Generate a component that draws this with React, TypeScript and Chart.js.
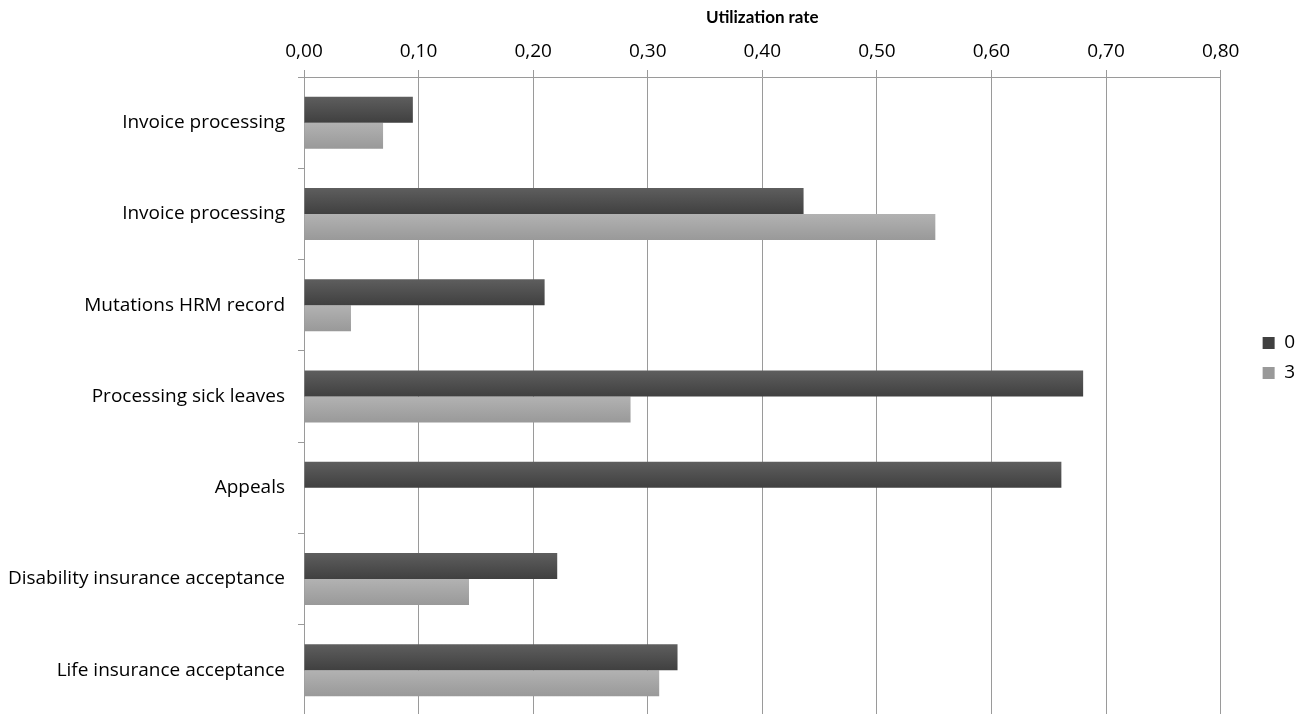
import { useEffect, useRef } from "react";
import { Chart, registerables } from "chart.js";

Chart.register(...registerables);

// Process categories, top to bottom
const categories = [
  "Invoice processing",
  "Invoice processing",
  "Mutations HRM record",
  "Processing sick leaves",
  "Appeals",
  "Disability insurance acceptance",
  "Life insurance acceptance",
];

const seriesNames = ["0", "3"];
const utilization0 = [0.095, 0.436, 0.21, 0.68, 0.661, 0.221, 0.326];
const utilization3 = [0.069, 0.551, 0.041, 0.285, 0, 0.144, 0.31];

const axisTitle = "Utilization rate";
const xMin = 0;
const xMax = 0.8;
const xStep = 0.1;

const FONT = "'Open Sans', Lato, sans-serif";
const TITLE_FONT = "Lato, 'Open Sans', sans-serif";
const GRID = "#9a9a9a";
const CATEGORY_PCT = 0.57;

// Vertical shading for each bar, computed from the category scale so that
// every bar gets its own gradient from top edge to bottom edge.
function shaded(top: string, bottom: string, flat: string, slot: number) {
  return (ctx: any) => {
    const chart = ctx.chart;
    const yScale = chart.scales && chart.scales.y;
    if (!yScale || ctx.dataIndex === undefined || ctx.type !== "data") return flat;
    const center = yScale.getPixelForValue(ctx.dataIndex);
    const cat = (yScale.bottom - yScale.top) / categories.length;
    const thick = (cat * CATEGORY_PCT) / 2;
    const y0 = center - thick + slot * thick;
    if (!Number.isFinite(y0) || !Number.isFinite(thick) || thick <= 0) return flat;
    const g = chart.ctx.createLinearGradient(0, y0, 0, y0 + thick);
    g.addColorStop(0, top);
    g.addColorStop(1, bottom);
    return g;
  };
}

export default function App() {
  const canvasRef = useRef<HTMLCanvasElement | null>(null);

  useEffect(() => {
    document.body.style.margin = "0";
    const canvas = canvasRef.current;
    if (!canvas) return;

    const chart = new Chart(canvas, {
      type: "bar",
      data: {
        labels: categories,
        datasets: [
          {
            label: seriesNames[0],
            data: utilization0,
            backgroundColor: shaded("#5e5e5e", "#404040", "#4d4d4d", 0),
            borderWidth: 0,
            categoryPercentage: CATEGORY_PCT,
            barPercentage: 1,
          },
          {
            label: seriesNames[1],
            data: utilization3,
            backgroundColor: shaded("#b2b2b2", "#999999", "#a6a6a6", 1),
            borderWidth: 0,
            categoryPercentage: CATEGORY_PCT,
            barPercentage: 1,
          },
        ],
      },
      options: {
        indexAxis: "y",
        animation: false,
        responsive: true,
        maintainAspectRatio: false,
        layout: { padding: 0 },
        plugins: {
          legend: {
            position: "right",
            align: "center",
            labels: {
              boxWidth: 12,
              boxHeight: 12,
              padding: 11,
              color: "#000",
              font: { family: FONT, size: 19 },
            },
          },
          tooltip: { enabled: false },
        },
        scales: {
          x: {
            position: "top",
            min: xMin,
            max: xMax,
            afterFit: (axis: any) => {
              axis.height = 77;
            },
            ticks: {
              stepSize: xStep,
              padding: 7,
              color: "#000",
              font: { family: FONT, size: 19 },
              callback: (v: any) => Number(v).toFixed(2).replace(".", ","),
            },
            grid: { color: GRID, tickLength: 7, lineWidth: 1 },
            border: { color: GRID },
            title: {
              display: true,
              text: axisTitle,
              color: "#000",
              font: { family: TITLE_FONT, size: 17, weight: "bold" },
              padding: { top: 7, bottom: 0 },
            },
          },
          y: {
            afterFit: (axis: any) => {
              axis.width = 304;
              axis.paddingTop = 0;
              axis.paddingBottom = 0;
            },
            ticks: {
              padding: 13,
              color: "#000",
              font: { family: FONT, size: 19 },
            },
            grid: {
              offset: true,
              drawOnChartArea: false,
              drawTicks: true,
              tickLength: 6,
              color: GRID,
            },
            border: { color: GRID },
          },
          // empty spacer between the plot and the legend
          gap: {
            type: "linear",
            position: "right",
            display: true,
            min: 0,
            max: 1,
            afterFit: (axis: any) => {
              axis.width = 31;
              axis.paddingTop = 0;
              axis.paddingBottom = 0;
            },
            ticks: { display: false },
            grid: { display: false },
            border: { display: false },
          },
        },
      },
    });

    return () => chart.destroy();
  }, []);

  return (
    <div style={{ width: 1305, height: 714, overflow: "hidden", background: "#fff" }}>
      <div style={{ position: "relative", width: 1305, height: 716 }}>
        <canvas ref={canvasRef} />
      </div>
    </div>
  );
}
